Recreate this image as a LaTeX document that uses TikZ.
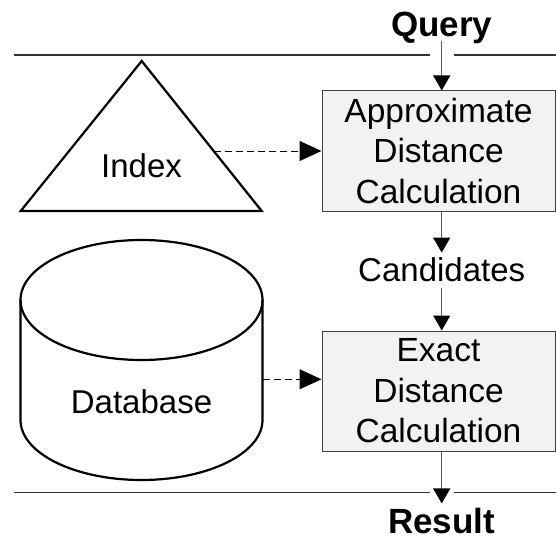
\documentclass[tikz,border=0pt]{standalone}
\usepackage{fontspec}
\setmainfont{Liberation Sans}
\usetikzlibrary{arrows.meta,calc}

\begin{document}
\begin{tikzpicture}[x=1pt,y=1pt,
  txt/.style={inner sep=0pt, font=\fontsize{33}{40}\selectfont},
  heading/.style={inner sep=0pt, font=\fontsize{35}{42}\selectfont\bfseries},
  calcbox/.style={draw=black!75, fill=black!5, line width=1pt,
    minimum width=233pt, minimum height=120pt, inner sep=0pt,
    align=center, font=\fontsize{33.5}{40.5}\selectfont},
  outline/.style={draw=black, line width=2.2pt, line join=miter},
  flow/.style={draw=black!65, line width=1.2pt,
    -{Triangle[length=15pt,width=17pt,black]}},
  lookup/.style={draw=black, line width=1pt, dash pattern=on 7pt off 4pt,
    -{Triangle[length=22pt,width=20pt,black]}},
  divider/.style={draw=black!80, line width=1.2pt}
]
\useasboundingbox (0,0) rectangle (556,-540);

% separators above and below the pipeline
\draw[divider] (14,-55) -- (430,-55);
\draw[divider] (454,-55) -- (556,-55);
\draw[divider] (14,-492.7) -- (430,-492.7);
\draw[divider] (454,-492.7) -- (556,-492.7);

% index (triangle)
\coordinate (tA) at (141.7,-61);
\coordinate (tL) at (20.7,-211);
\coordinate (tR) at (261.7,-211);
\draw[outline] (tA) -- (tL) -- (tR) -- cycle;
\node[txt, anchor=base] (index) at (141.5,-178) {Index};
\coordinate (tx) at ($(tA)!0.6!(tR)$);

% database (cylinder)
\draw[outline] (20.5,-300) -- (20.5,-420)
  arc[start angle=180, end angle=360, x radius=121, y radius=60]
  -- (262.5,-300);
\draw[outline] (141.5,-300) ellipse [x radius=121, y radius=60];
\node[txt, anchor=base] (db) at (141.5,-413.3) {Database};
\coordinate (dbR) at (262.5,-379.3);

% processing steps
\node[calcbox] (box1) at (438.5,-151) {Approximate\\Distance\\Calculation};
\node[calcbox] (box2) at (438.5,-391) {Exact\\Distance\\Calculation};

% labels along the flow
\node[heading, anchor=base] (query) at (441.7,-36.7) {Query};
\node[txt, anchor=base] (cand) at (441.7,-281.7) {Candidates};
\node[heading, anchor=base] (result) at (441.7,-533) {Result};

% main flow
\draw[flow, shorten <=-3pt] (query.south) -- (query.south |- box1.north);
\draw[flow, shorten >=5pt] (box1.south -| query) -- (cand.north -| query);
\draw[flow, shorten <=6pt] (cand.south -| query) -- (box2.north -| query);
\draw[flow, shorten >=4pt] (box2.south -| query) -- (result.north -| query);

% auxiliary inputs
\draw[lookup] (tx) -- (box1.west |- tx);
\draw[lookup] (dbR) -- (box2.west |- dbR);
\end{tikzpicture}
\end{document}
